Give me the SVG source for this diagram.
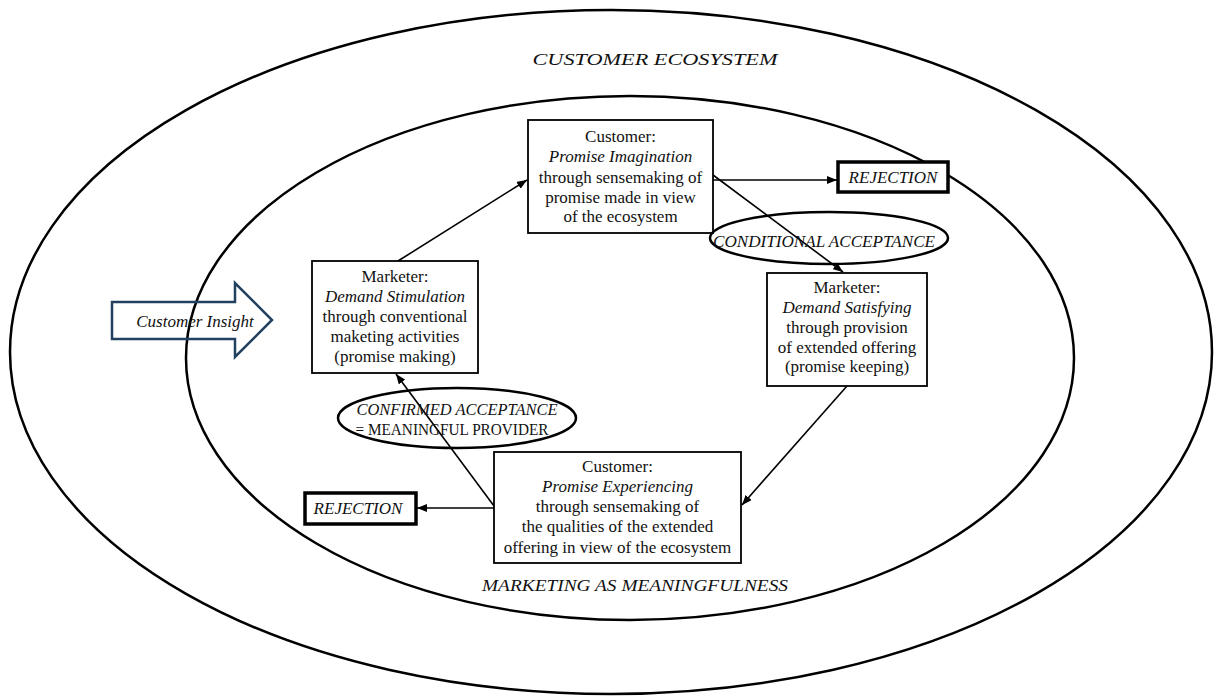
<svg xmlns="http://www.w3.org/2000/svg" width="1223" height="698" viewBox="0 0 1223 698" font-family="'Liberation Serif', 'Times New Roman', 'DejaVu Serif', serif">
<style>
text{font-family:'Liberation Serif','Times New Roman','DejaVu Serif',serif}
.t{font-size:17px;fill:#111;text-anchor:middle}
.i{font-style:italic}
.box{fill:#fff;stroke:#000;stroke-width:1.8}
.rej{fill:#fff;stroke:#000;stroke-width:3.5}
.ring{fill:none;stroke:#000;stroke-width:2.5}
.lbl{fill:none;stroke:#000;stroke-width:2.5}
.c{fill:none;stroke:#000;stroke-width:1.6;marker-end:url(#ah)}
</style>
<defs>
<marker id="ah" viewBox="0 0 10 8" refX="10" refY="4" markerWidth="10" markerHeight="8" markerUnits="userSpaceOnUse" orient="auto">
<path d="M0,0 L10,4 L0,8 z" fill="#000"/>
</marker>
</defs>
<rect width="1223" height="698" fill="#fff"/>
<g id="outer-ring">
<ellipse class="ring" cx="611" cy="352" rx="601" ry="342"/>
<text class="t i" x="655" y="65" font-size="21" textLength="245" lengthAdjust="spacingAndGlyphs">CUSTOMER ECOSYSTEM</text>
</g>
<g id="inner-ring">
<ellipse class="ring" cx="630" cy="358" rx="444" ry="262"/>
<text class="t i" x="635" y="591" font-size="20" textLength="306" lengthAdjust="spacingAndGlyphs">MARKETING AS MEANINGFULNESS</text>
</g>
<g id="customer-insight">
<path d="M112,302 L235,302 L235,283 L272,320 L235,357 L235,339 L112,339 Z" fill="none" stroke="#22405F" stroke-width="2.5" stroke-linejoin="miter"/>
<text class="t i" x="195" y="327" font-size="19.5">Customer Insight</text>
</g>
<g id="connectors">
<line class="c" x1="398" y1="261" x2="527" y2="180"/>
<line class="c" x1="713" y1="180" x2="837" y2="180"/>
<line class="c" x1="713" y1="175" x2="843" y2="272"/>
<line class="c" x1="847" y1="386" x2="742" y2="505"/>
<line class="c" x1="494" y1="508" x2="417" y2="508"/>
<line class="c" x1="494" y1="506" x2="396" y2="374"/>
</g>
<g id="promise-imagination">
<rect class="box" x="528" y="120" width="185" height="113"/>
<text class="t" x="620.5" y="142">Customer:</text>
<text class="t i" x="620.5" y="162">Promise Imagination</text>
<text class="t" x="620.5" y="183">through sensemaking of</text>
<text class="t" x="620.5" y="203">promise made in view</text>
<text class="t" x="620.5" y="222">of the ecosystem</text>
</g>
<g id="rejection-top">
<rect class="rej" x="838" y="162" width="110" height="30"/>
<text class="t i" x="893" y="183">REJECTION</text>
</g>
<g id="conditional-acceptance">
<ellipse class="lbl" cx="829" cy="238" rx="119" ry="26"/>
<text class="t i" x="824" y="247" textLength="222" lengthAdjust="spacingAndGlyphs">CONDITIONAL ACCEPTANCE</text>
</g>
<g id="demand-stimulation">
<rect class="box" x="312" y="261" width="166" height="112"/>
<text class="t" x="395" y="282">Marketer:</text>
<text class="t i" x="395" y="302">Demand Stimulation</text>
<text class="t" x="395" y="322">through conventional</text>
<text class="t" x="395" y="342">maketing activities</text>
<text class="t" x="395" y="362">(promise making)</text>
</g>
<g id="demand-satisfying">
<rect class="box" x="767" y="273" width="160" height="113"/>
<text class="t" x="847" y="293">Marketer:</text>
<text class="t i" x="847" y="313">Demand Satisfying</text>
<text class="t" x="847" y="333">through provision</text>
<text class="t" x="847" y="353">of extended offering</text>
<text class="t" x="847" y="372">(promise keeping)</text>
</g>
<g id="confirmed-acceptance">
<ellipse class="lbl" cx="457" cy="418" rx="119" ry="30"/>
<text class="t i" x="457" y="415" textLength="201" lengthAdjust="spacingAndGlyphs">CONFIRMED ACCEPTANCE</text>
<text class="t" x="452" y="435" textLength="193" lengthAdjust="spacingAndGlyphs">= MEANINGFUL PROVIDER</text>
</g>
<g id="promise-experiencing">
<rect class="box" x="494" y="452" width="247" height="111"/>
<text class="t" x="617.5" y="472">Customer:</text>
<text class="t i" x="617.5" y="492">Promise Experiencing</text>
<text class="t" x="617.5" y="512">through sensemaking of</text>
<text class="t" x="617.5" y="532">the qualities of the extended</text>
<text class="t" x="617.5" y="553">offering in view of the ecosystem</text>
</g>
<g id="rejection-bottom">
<rect class="rej" x="305" y="493" width="111" height="31"/>
<text class="t i" x="358" y="514">REJECTION</text>
</g>
</svg>
